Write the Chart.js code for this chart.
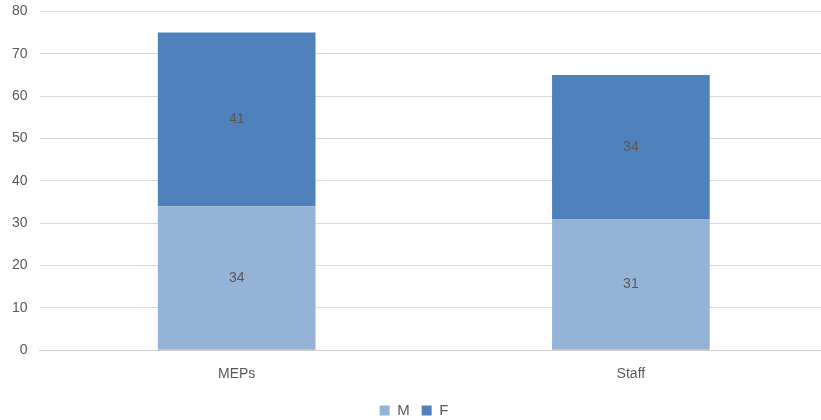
<!DOCTYPE html>
<html>
<head>
<meta charset="utf-8">
<script src="https://cdn.jsdelivr.net/npm/chart.js@4/dist/chart.umd.min.js"></script>
<style>
  html, body { margin: 0; padding: 0; background: #fff; overflow: hidden; }
  #wrap { width: 828px; height: 437px; margin-top: -9px; }
</style>
</head>
<body>
<div id="wrap"><canvas id="genderChart" width="828" height="437"></canvas></div>
<script>
const categories = ['MEPs', 'Staff'];
const maleValues = [34, 31];
const femaleValues = [41, 34];
const yTicks = [0, 10, 20, 30, 40, 50, 60, 70, 80];

// writes each segment's value in the middle of its bar
const segmentLabels = {
    id: 'segmentLabels',
    afterDatasetsDraw(chart) {
        const ctx = chart.ctx;
        ctx.save();
        ctx.fillStyle = '#595959';
        ctx.font = '14px "Liberation Sans", "Open Sans", sans-serif';
        ctx.textAlign = 'center';
        ctx.textBaseline = 'middle';
        chart.data.datasets.forEach((ds, i) => {
            chart.getDatasetMeta(i).data.forEach((bar, j) => {
                const y = (bar.y + bar.base) / 2;
                ctx.fillText(ds.data[j], bar.x, y);
            });
        });
        ctx.restore();
    }
};

const ctx = document.getElementById('genderChart').getContext('2d');

new Chart(ctx, {
    type: 'bar',
    data: {
        labels: categories,
        datasets: [
            { label: 'M', data: maleValues, backgroundColor: '#95b3d7' },
            { label: 'F', data: femaleValues, backgroundColor: '#4f81bd' }
        ]
    },
    options: {
        responsive: false,
        animation: false,
        layout: { padding: { top: 2, left: 0, right: 0, bottom: 0 } },
        datasets: { bar: { categoryPercentage: 0.5, barPercentage: 0.8 } },
        plugins: {
            legend: {
                position: 'bottom',
                labels: {
                    boxWidth: 10,
                    boxHeight: 10,
                    padding: 12,
                    color: '#595959',
                    font: { size: 15, family: '"Liberation Sans", "Open Sans", sans-serif' }
                }
            },
            tooltip: { enabled: false }
        },
        scales: {
            x: {
                stacked: true,
                grid: { display: false },
                border: { color: '#d0d0d0', width: 1 },
                ticks: {
                    color: '#595959',
                    padding: 8,
                    font: { size: 14, family: '"Liberation Sans", "Open Sans", sans-serif' }
                }
            },
            y: {
                stacked: true,
                min: 0,
                max: 80,
                afterBuildTicks(axis) {
                    axis.ticks = yTicks.map(v => ({ value: v }));
                },
                grid: { color: '#d9d9d9', lineWidth: 1, drawTicks: false },
                border: { display: false },
                ticks: {
                    color: '#595959',
                    padding: 12,
                    font: { size: 14, family: '"Liberation Sans", "Open Sans", sans-serif' }
                }
            }
        }
    },
    plugins: [segmentLabels]
});
</script>
</body>
</html>
